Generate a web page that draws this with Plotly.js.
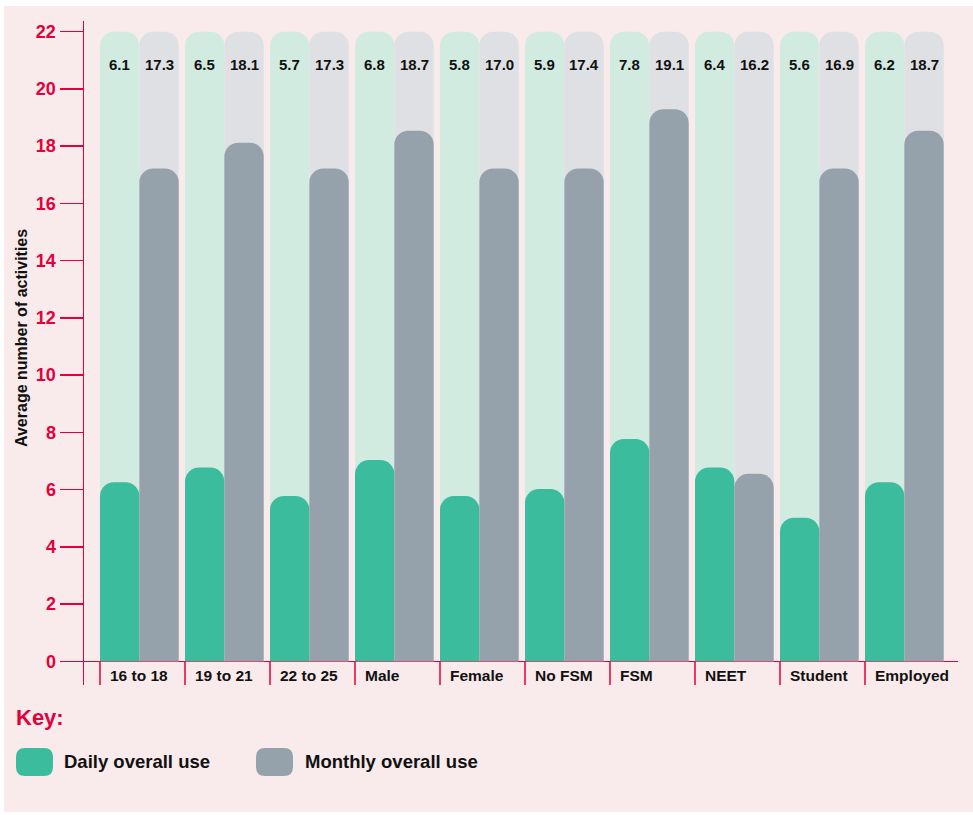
<!DOCTYPE html>
<html>
<head>
<meta charset="utf-8">
<script src="https://cdn.plot.ly/plotly-3.0.1.min.js"></script>
<style>html,body{margin:0;padding:0;background:#fff;}#chart{width:973px;height:815px;}</style>
</head>
<body>
<div id="chart"></div>
<script>
// ---- data ----
const categories = ['16 to 18','19 to 21','22 to 25','Male','Female','No FSM','FSM','NEET','Student','Employed'];
const dailyValues = [6.26, 6.77, 5.78, 7.03, 5.78, 6.02, 7.77, 6.77, 5.02, 6.26];
const monthlyValues = [17.22, 18.12, 17.22, 18.54, 17.22, 17.22, 19.29, 6.55, 17.22, 18.54];
const dailyLabels = ['6.1','6.5','5.7','6.8','5.8','5.9','7.8','6.4','5.6','6.2'];
const monthlyLabels = ['17.3','18.1','17.3','18.7','17.0','17.4','19.1','16.2','16.9','18.7'];
const yTickValues = [0,2,4,6,8,10,12,14,16,18,20,22];
const scaleMax = 22;
const seriesNames = ['Daily overall use','Monthly overall use'];

// ---- style ----
const RED = '#e4003b';
const FONT = 'Liberation Sans, Arial, Helvetica, sans-serif';
const W = 973, H = 815;
const M = {l:84, r:15, t:21, b:130};
const plotW = W - M.l - M.r, plotH = H - M.t - M.b;
const BW = 0.463; // bar width in category units
const CR = 14;
const px = x => (x - M.l) / plotW;
const py = y => (H - M.b - y) / plotH;

const bgMax = categories.map(() => scaleMax);

const traces = [
  {type:'bar', x:categories, y:bgMax, width:BW, offset:-BW, marker:{color:'#d2ebe1', cornerradius:CR, line:{width:0}}, hoverinfo:'skip', showlegend:false},
  {type:'bar', x:categories, y:bgMax, width:BW, offset:0, marker:{color:'#dfe0e3', cornerradius:CR, line:{width:0}}, hoverinfo:'skip', showlegend:false},
  {type:'bar', name:seriesNames[0], x:categories, y:dailyValues, xaxis:'x2', width:BW, offset:-BW, marker:{color:'#3bbc9c', cornerradius:CR, line:{width:0}}, showlegend:false},
  {type:'bar', name:seriesNames[1], x:categories, y:monthlyValues, xaxis:'x3', width:BW, offset:0, marker:{color:'#95a2ab', cornerradius:CR, line:{width:0}}, showlegend:false}
];

const annotations = [];
const shapes = [];

// background panel
shapes.push({type:'rect', xref:'paper', yref:'paper', x0:px(4), x1:px(973), y0:py(812), y1:py(6), fillcolor:'#f9eaeb', line:{width:0}, layer:'below'});

categories.forEach((c, i) => {
  annotations.push({x:i - BW/2, y:20.85, xref:'x', yref:'y', text:'<b>' + dailyLabels[i] + '</b>', showarrow:false, xanchor:'center', yanchor:'middle', font:{family:FONT, size:15, color:'#111'}});
  annotations.push({x:i + BW/2, y:20.85, xref:'x', yref:'y', text:'<b>' + monthlyLabels[i] + '</b>', showarrow:false, xanchor:'center', yanchor:'middle', font:{family:FONT, size:15, color:'#111'}});
  annotations.push({x:i - BW, y:-0.51, xref:'x', yref:'y', xshift:8, text:'<b>' + c + '</b>', showarrow:false, xanchor:'left', yanchor:'middle', font:{family:FONT, size:15.5, color:'#111'}});
  shapes.push({type:'line', xref:'x', yref:'paper', x0:i - BW, x1:i - BW, y0:0, y1:py(661.3), line:{color:RED, width:1.5}});
});

// y title
annotations.push({xref:'paper', yref:'paper', x:px(21), y:py(338), text:'<b>Average number of activities</b>', textangle:-90, showarrow:false, xanchor:'center', yanchor:'middle', font:{family:FONT, size:16, color:'#111'}});

// key
annotations.push({xref:'paper', yref:'paper', x:px(14), y:py(717), text:'<b>Key:</b>', showarrow:false, xanchor:'left', yanchor:'middle', font:{family:FONT, size:22, color:RED}});
function roundRect(x0, y0, x1, y1, r) {
  const X = v => px(v), Y = v => py(v);
  return 'M' + X(x0 + r) + ',' + Y(y0) + ' L' + X(x1 - r) + ',' + Y(y0) +
    ' Q' + X(x1) + ',' + Y(y0) + ' ' + X(x1) + ',' + Y(y0 + r) +
    ' L' + X(x1) + ',' + Y(y1 - r) +
    ' Q' + X(x1) + ',' + Y(y1) + ' ' + X(x1 - r) + ',' + Y(y1) +
    ' L' + X(x0 + r) + ',' + Y(y1) +
    ' Q' + X(x0) + ',' + Y(y1) + ' ' + X(x0) + ',' + Y(y1 - r) +
    ' L' + X(x0) + ',' + Y(y0 + r) +
    ' Q' + X(x0) + ',' + Y(y0) + ' ' + X(x0 + r) + ',' + Y(y0) + ' Z';
}
const keyItems = [
  {sx:16, tx:64, color:'#3bbc9c', name:seriesNames[0]},
  {sx:256, tx:305, color:'#95a2ab', name:seriesNames[1]}
];
keyItems.forEach(k => {
  shapes.push({type:'path', xref:'paper', yref:'paper', path:roundRect(k.sx, 748, k.sx + 37, 776, 9), fillcolor:k.color, line:{width:0}});
  annotations.push({xref:'paper', yref:'paper', x:px(k.tx - 2), y:py(761), text:'<b>' + k.name + '</b>', showarrow:false, xanchor:'left', yanchor:'middle', font:{family:FONT, size:18.5, color:'#111'}});
});

const y0px = 661.3, y22px = 31.7;
const ppu = (y0px - y22px) / scaleMax;
const yRange = [-(H - M.b - y0px) / ppu, scaleMax + (y22px - M.t) / ppu];
const c0 = 139.35, unit = 85;
const xRange = [(M.l - c0) / unit, (W - M.r - c0) / unit];
const hiddenX = {type:'category', range:xRange, showticklabels:false, ticks:'', showgrid:false, zeroline:false, showline:false, fixedrange:true};

const layout = {
  width:W, height:H,
  margin:M,
  paper_bgcolor:'#ffffff',
  plot_bgcolor:'rgba(0,0,0,0)',
  barmode:'overlay',
  showlegend:false,
  font:{family:FONT},
  xaxis:Object.assign({}, hiddenX),
  xaxis2:Object.assign({overlaying:'x'}, hiddenX),
  xaxis3:Object.assign({overlaying:'x'}, hiddenX),
  yaxis:{range:yRange, tickvals:yTickValues, ticktext:yTickValues.map(v => '<b>' + v + '</b>'), ticks:'outside', ticklen:23, tickwidth:1.5, tickcolor:RED,
    tickfont:{family:FONT, size:18, color:RED}, showgrid:false, showline:true, linecolor:RED, linewidth:1.5,
    zeroline:true, zerolinecolor:RED, zerolinewidth:1.5, fixedrange:true},
  shapes:shapes,
  annotations:annotations
};

Plotly.newPlot('chart', traces, layout, {displayModeBar:false, staticPlot:true});
</script>
</body>
</html>
